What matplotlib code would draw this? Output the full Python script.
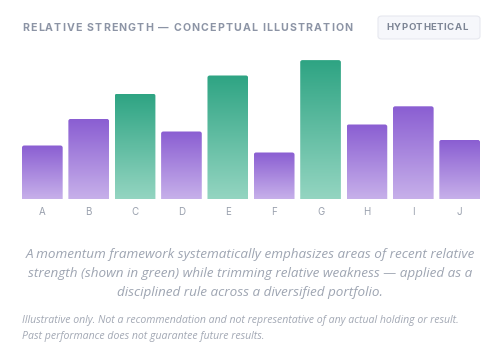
import numpy as np
import matplotlib.pyplot as plt
from matplotlib.patches import FancyBboxPatch
from matplotlib.colors import LinearSegmentedColormap

# chart data
labels = ["A", "B", "C", "D", "E", "F", "G", "H", "I", "J"]
values = [38, 57, 75, 48, 88, 33, 99, 53, 66, 42]
strong = [False, False, True, False, True, False, True, False, False, False]

title = "RELATIVE STRENGTH \u2014 CONCEPTUAL ILLUSTRATION"
badge = "HYPOTHETICAL"
caption = ("A momentum framework systematically emphasizes areas of recent relative\n"
           "strength (shown in green) while trimming relative weakness \u2014 applied as a\n"
           "disciplined rule across a diversified portfolio.")
footnote = ("Illustrative only. Not a recommendation and not representative of any actual holding or result.\n"
            "Past performance does not guarantee future results.")

purple = LinearSegmentedColormap.from_list("p", ["#c7b0ea", "#8a5ed2"])
green = LinearSegmentedColormap.from_list("g", ["#94d5c1", "#2ea483"])

W, H = 500, 354
fig = plt.figure(figsize=(W / 100, H / 100), dpi=100)
fig.patch.set_facecolor("white")

# axes in pixel coords: left 22, right 480, bottom 198.7, top ~40
bw = 0.877
ax = fig.add_axes([22 / W, 1 - 198.7 / H, 458 / W, (198.7 - 40) / H])
ax.set_xlim(-bw / 2, 9 + bw / 2)
ax.set_ylim(0, (198.7 - 40) / 1.4)
ax.axis("off")

grad = np.linspace(0, 1, 256).reshape(-1, 1)
for i, (v, s) in enumerate(zip(values, strong)):
    x0 = i - bw / 2
    patch = FancyBboxPatch((x0, -3), bw, v + 3,
                           boxstyle="round,pad=0,rounding_size=0.05",
                           mutation_aspect=1 / 0.033,
                           facecolor="none", edgecolor="none")
    ax.add_patch(patch)
    im = ax.imshow(grad, cmap=green if s else purple, origin="lower",
                   extent=[x0, x0 + bw, 0, v], aspect="auto", zorder=2)
    im.set_clip_path(patch)
    ax.text(i, -9.5, labels[i], ha="center", va="center",
            fontsize=7, color="#9aa1ae", family="Inter")


def tracked(x, y, s, tracking, **kw):
    r = fig.canvas.get_renderer()
    probe = fig.text(0, 0, "x", **kw)
    wx = probe.get_window_extent(r).width
    probe.remove()
    for i, ch in enumerate(s):
        t = fig.text(0, 0, s[:i] + "x", **kw)
        off = t.get_window_extent(r).width - wx
        t.remove()
        fig.text((x + off + i * tracking) / W, 1 - y / H, ch, va="center", ha="left", **kw)


tracked(22, 28, title, 1.15, fontsize=7.6, fontweight="bold", color="#8c94a5", family="Inter")

bx = FancyBboxPatch((378 / W, 1 - 39 / H), 102 / W, 23 / H,
                    boxstyle="round,pad=0,rounding_size=0.008",
                    transform=fig.transFigure, facecolor="#f6f7fb",
                    edgecolor="#e6e8ef", linewidth=0.8)
fig.patches.append(bx)
tracked(386.5, 28, badge, 0.45, fontsize=6.9, fontweight="bold", color="#7d8595", family="Inter")

fig.text(0.5, 1 - 273.7 / H, caption, ha="center", va="center", fontsize=9.7,
         style="italic", color="#9ea5b2", family="Open Sans", linespacing=1.6)
fig.text(22 / W, 1 - 328.7 / H, footnote, ha="left", va="center", fontsize=7.6,
         style="italic", color="#a2a8b4", family="Open Sans", linespacing=1.55)

fig.savefig("out.png", dpi=100)
